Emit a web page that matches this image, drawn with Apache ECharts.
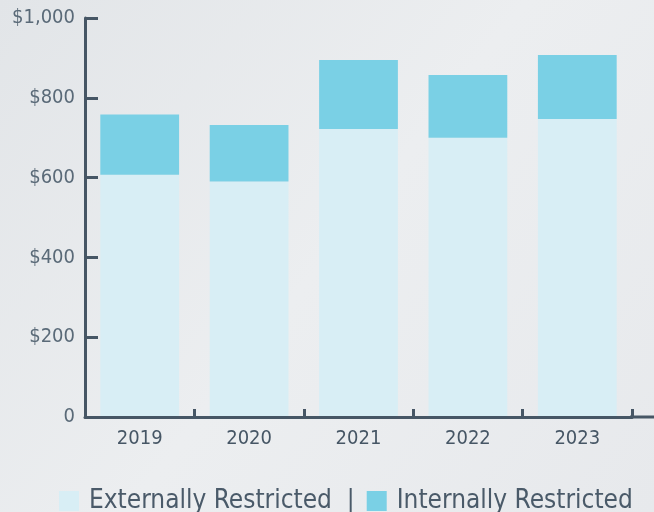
<!DOCTYPE html>
<html><head><meta charset="utf-8">
<script src="https://cdn.jsdelivr.net/npm/echarts@6/dist/echarts.min.js"></script>
<style>html,body{margin:0;padding:0;background:#e8eaed;}#c{width:654px;height:512px;}</style>
</head><body><div id="c"></div>
<script>
const categories = ['2019','2020','2021','2022','2023'];
const externallyRestricted = [607, 590, 722, 700, 747];
const internallyRestricted = [151, 142, 173, 157, 160];
const yTicks = [0, 200, 400, 600, 800, 1000];

const FONT = '"Liberation Sans Narrow","DejaVu Sans Condensed","Roboto",sans-serif';
const AX = '#465665';
const GRID_RIGHT = 22;
const chart = echarts.init(document.getElementById('c'));
chart.setOption({
  backgroundColor: {
    type: 'linear', x: 0, y: 0, x2: 1, y2: 1,
    colorStops: [{offset: 0, color: '#e2e5e8'}, {offset: 0.5, color: '#eceef0'}, {offset: 1, color: '#e7e9ec'}]
  },
  animation: false,
  grid: {left: 85, right: GRID_RIGHT, top: 18, bottom: 95, containLabel: false},
  legend: {
    top: 488, left: 59, padding: 0,
    itemWidth: 20, itemHeight: 20, itemGap: 12,
    icon: 'rect',
    textStyle: {fontFamily: FONT, fontSize: 26, lineHeight: 20, color: '#4a5a69', padding: [0, 0, 0, 5]},
    formatter: function (n) { return n === 'Externally Restricted' ? n + '  |' : n; },
    data: ['Externally Restricted', 'Internally Restricted']
  },
  xAxis: {
    type: 'category', data: categories, z: 5,
    axisLine: {lineStyle: {color: AX, width: 3}},
    axisTick: {show: true, interval: 0, alignWithLabel: false, inside: true, length: 8, lineStyle: {color: AX, width: 3}},
    axisLabel: {fontFamily: FONT, fontSize: 20, color: '#465665', margin: 12}
  },
  yAxis: {
    type: 'value', min: 0, max: 1000, interval: 200, z: 5,
    splitLine: {show: false},
    axisLine: {show: true, lineStyle: {color: AX, width: 3}},
    axisTick: {show: true, inside: true, length: 13, lineStyle: {color: AX, width: 3}},
    axisLabel: {
      fontFamily: FONT, fontSize: 20, color: '#5a6a78', margin: 10,
      formatter: function (v) { return yTicks.indexOf(v) < 0 ? '' : (v === 0 ? '0' : '$' + v.toLocaleString('en-US')); }
    }
  },
  series: [
    {name: 'Externally Restricted', type: 'bar', stack: 'a', data: externallyRestricted,
     barCategoryGap: '28%', itemStyle: {color: '#d8eef5'}},
    {name: 'Internally Restricted', type: 'bar', stack: 'a', data: internallyRestricted,
     itemStyle: {color: '#7ad0e5'}}
  ]
});
// extend the x axis line to the right edge, as in the reference
const y0 = chart.convertToPixel({yAxisIndex: 0}, 0);
const xEnd = chart.getWidth() - GRID_RIGHT;
chart.setOption({graphic: [{type: 'line', z: 10, silent: true,
  shape: {x1: xEnd - 2, y1: y0, x2: chart.getWidth(), y2: y0},
  style: {stroke: AX, lineWidth: 3}}]});
</script></body></html>
